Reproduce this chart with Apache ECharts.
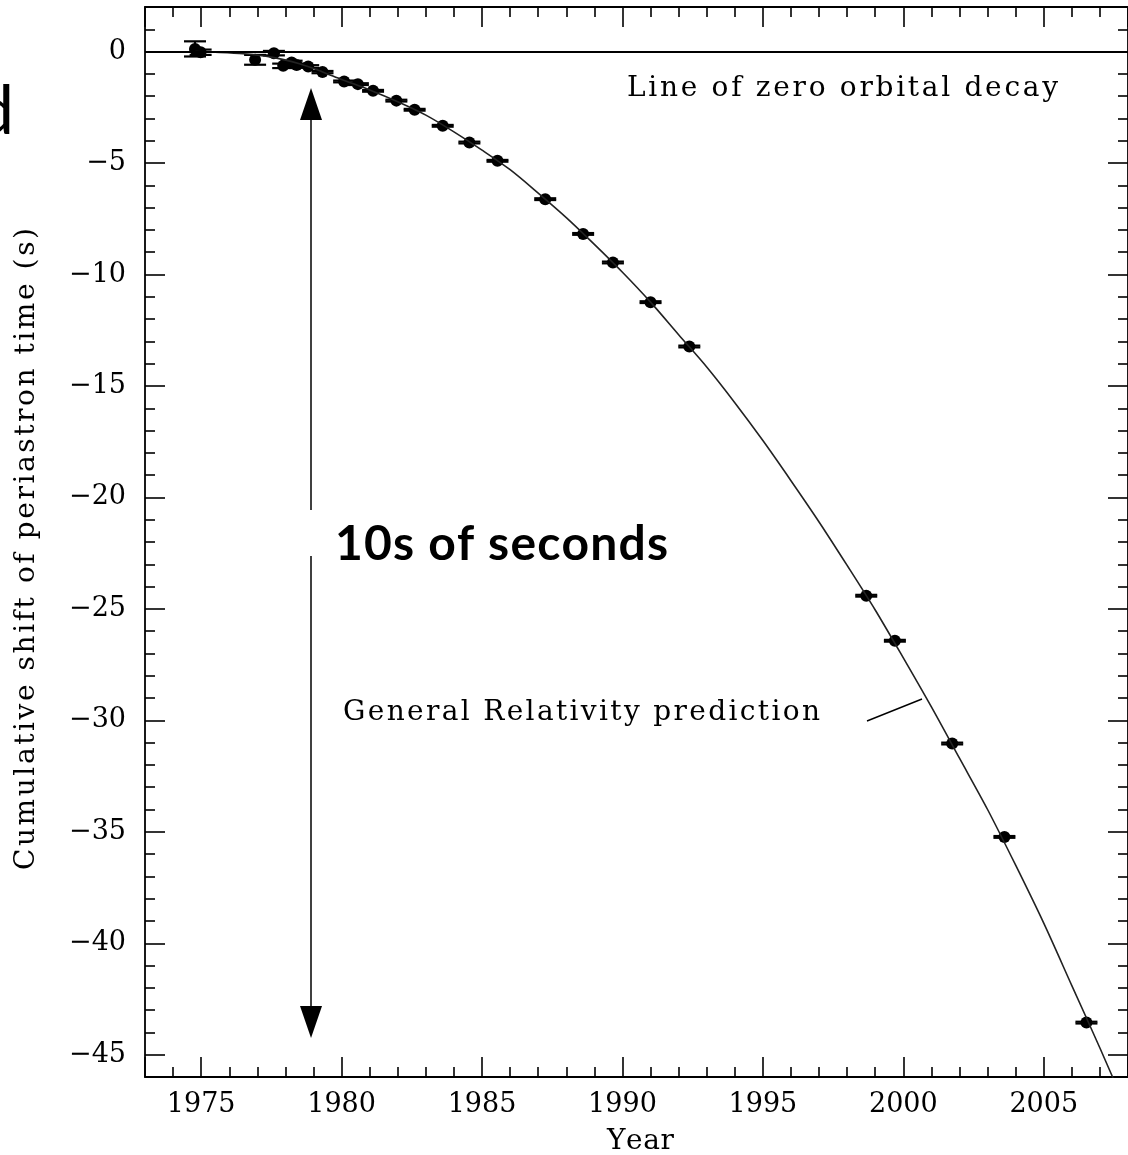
<!DOCTYPE html>
<html>
<head>
<meta charset="utf-8">
<script src="https://cdn.jsdelivr.net/npm/echarts/dist/echarts.min.js"></script>
<style>
  html, body { margin: 0; padding: 0; background: #fff; }
  #chart { width: 1128px; height: 1155px; }
</style>
</head>
<body>
<div id="chart"></div>
<script>
// measured periastron shift (s) per epoch, with 1-sigma errors
var obsYears = [1974.78, 1974.98, 1976.92, 1977.59, 1977.92, 1978.22, 1978.40, 1978.81, 1979.32,
                1980.09, 1980.58, 1981.12, 1981.95, 1982.60, 1983.60, 1984.55, 1985.55, 1987.25,
                1988.60, 1989.66, 1991.00, 1992.38, 1998.68, 1999.70, 2001.74, 2003.60, 2006.52];
var obsShift = [0.12, -0.03, -0.37, -0.07, -0.64, -0.49, -0.60, -0.67, -0.92,
                -1.34, -1.46, -1.76, -2.20, -2.61, -3.33, -4.08, -4.90, -6.62,
                -8.18, -9.46, -11.24, -13.23, -24.41, -26.43, -31.04, -35.23, -43.56];
var obsError = [0.34, 0.12, 0.22, 0.10, 0.10, 0.08, 0.06, 0.06, 0.05,
                0.04, 0.04, 0.04, 0.04, 0.04, 0.04, 0.04, 0.04, 0.04,
                0.04, 0.04, 0.04, 0.04, 0.04, 0.04, 0.04, 0.04, 0.04];

// general relativity prediction
var grYears = [1974.8, 1975.5, 1976.5, 1977.5, 1978.5, 1979.3, 1980, 1981, 1982, 1983, 1984, 1985,
               1986, 1987, 1988, 1989, 1990, 1991, 1992, 1993, 1994, 1995, 1996, 1997, 1998,
               1999, 2000, 2001, 2002, 2003, 2004, 2005, 2006, 2007, 2008];
var grShift = [0.00, -0.03, -0.10, -0.25, -0.55, -0.90, -1.25, -1.72, -2.25, -2.85, -3.60, -4.42,
               -5.30, -6.35, -7.45, -8.65, -9.90, -11.24, -12.70, -14.15, -15.75, -17.45, -19.25, -21.10, -23.05,
               -25.05, -27.20, -29.40, -31.70, -34.00, -36.50, -39.10, -41.90, -44.70, -47.60];

var serif = 'DejaVu Serif';
var ink = '#000';

// text with stretched letter spacing so it fills a given width (the original font is loosely set)
var measureCtx = document.createElement('canvas').getContext('2d');
function spacedText(str, size, family, weight, width) {
    var font = (weight || 'normal') + ' ' + size + 'px "' + family + '"';
    measureCtx.font = font;
    var widths = [], natural = 0;
    for (var i = 0; i < str.length; i++) {
        widths.push(measureCtx.measureText(str[i]).width);
        natural += widths[i];
    }
    var gap = str.length > 1 ? (width - natural) / (str.length - 1) : 0;
    var x = 0, children = [];
    for (var j = 0; j < str.length; j++) {
        if (str[j] !== ' ') {
            children.push({
                type: 'text', x: x, y: 0,
                style: {text: str[j], fontSize: size, fontFamily: family, fontWeight: weight || 'normal',
                        fill: ink, verticalAlign: 'middle', align: 'left'}
            });
        }
        x += widths[j] + gap;
    }
    return children;
}

function minusLabel(v) {
    return v < 0 ? '\u2212' + Math.abs(v) : String(v);
}

var myChart = echarts.init(document.getElementById('chart'));

var tickStyle = {color: ink, width: 1.6};
function xAxisDef(pos, showLabel) {
    return {
        type: 'value', position: pos, min: 1973, max: 2008, splitNumber: 7,
        axisLine: {show: true, onZero: false, lineStyle: {color: ink, width: 1.8}},
        axisTick: {show: true, inside: true, length: 20, lineStyle: tickStyle},
        minorTick: {show: true, splitNumber: 5, length: 10, lineStyle: tickStyle},
        splitLine: {show: false},
        axisLabel: {show: showLabel, showMinLabel: false, showMaxLabel: false, margin: 14,
                    color: ink, fontFamily: serif, fontSize: 27,
                    formatter: function (v) { return String(v); }}
    };
}
function yAxisDef(pos, showLabel) {
    return {
        type: 'value', position: pos, min: -46, max: 2, splitNumber: 10,
        axisLine: {show: true, onZero: false, lineStyle: {color: ink, width: 1.8}},
        axisTick: {show: true, inside: true, length: 20, lineStyle: tickStyle},
        minorTick: {show: true, splitNumber: 5, length: 10, lineStyle: tickStyle},
        splitLine: {show: false},
        axisLabel: {show: showLabel, showMinLabel: false, showMaxLabel: false, margin: 19,
                    color: ink, fontFamily: serif, fontSize: 27, formatter: minusLabel}
    };
}

var option = {
    backgroundColor: '#fff',
    animation: false,
    grid: {left: 145, right: -4, top: 7, bottom: 78},
    xAxis: [xAxisDef('bottom', true), xAxisDef('top', false)],
    yAxis: [yAxisDef('left', true), yAxisDef('right', false)],
    series: [{
        name: 'GR prediction',
        type: 'line',
        data: grYears.map(function (y, i) { return [y, grShift[i]]; }),
        showSymbol: false,
        smooth: 0.3,
        lineStyle: {color: '#222', width: 1.6},
        markLine: {
            silent: true, symbol: 'none', label: {show: false},
            lineStyle: {color: ink, width: 1.8, type: 'solid'},
            data: [{yAxis: 0}]
        }
    }, {
        name: 'errors',
        type: 'custom',
        data: obsYears.map(function (y, i) { return [y, obsShift[i] - obsError[i], obsShift[i] + obsError[i]]; }),
        encode: {x: 0, y: [1, 2]},
        renderItem: function (params, api) {
            var lo = api.coord([api.value(0), api.value(1)]);
            var hi = api.coord([api.value(0), api.value(2)]);
            var cap = 11;
            var st = {stroke: ink, lineWidth: 2.2};
            return {type: 'group', children: [
                {type: 'line', shape: {x1: lo[0], y1: lo[1], x2: hi[0], y2: hi[1]}, style: st},
                {type: 'line', shape: {x1: lo[0] - cap, y1: lo[1], x2: lo[0] + cap, y2: lo[1]}, style: st},
                {type: 'line', shape: {x1: hi[0] - cap, y1: hi[1], x2: hi[0] + cap, y2: hi[1]}, style: st}
            ]};
        }
    }, {
        name: 'observed',
        type: 'scatter',
        data: obsYears.map(function (y, i) { return [y, obsShift[i]]; }),
        symbol: 'circle',
        symbolSize: 12,
        itemStyle: {color: ink, opacity: 1}
    }],
    graphic: [
        // y axis title, reading upwards
        {type: 'group', x: 27, y: 870, rotation: Math.PI / 2,
         children: spacedText('Cumulative shift of periastron time (s)', 28, serif, 'normal', 642)},
        {type: 'group', x: 607, y: 1142, children: spacedText('Year', 28, serif, 'normal', 67)},
        {type: 'group', x: 627, y: 89, children: spacedText('Line of zero orbital decay', 28, serif, 'normal', 431)},
        {type: 'group', x: 343, y: 713, children: spacedText('General Relativity prediction', 28, serif, 'normal', 477)},
        {type: 'line', shape: {x1: 867, y1: 721, x2: 922, y2: 699}, style: {stroke: ink, lineWidth: 1.5}},
        // double arrow spanning tens of seconds
        {type: 'line', shape: {x1: 311, y1: 118, x2: 311, y2: 510}, style: {stroke: ink, lineWidth: 1.5}},
        {type: 'polygon', shape: {points: [[300, 120], [322, 120], [311, 88]]}, style: {fill: ink}},
        {type: 'line', shape: {x1: 311, y1: 556, x2: 311, y2: 1008}, style: {stroke: ink, lineWidth: 1.5}},
        {type: 'polygon', shape: {points: [[300, 1006], [322, 1006], [311, 1038]]}, style: {fill: ink}},
        {type: 'group', x: 335, y: 545, children: spacedText('10s of seconds', 48, 'Lato', 'bold', 333)},
        // clipped letter of the slide title
        {type: 'text', x: 14, y: 112, style: {text: 'd', fontSize: 68, fontFamily: 'Lato', fill: ink,
                                              align: 'right', verticalAlign: 'middle'}}
    ]
};

myChart.setOption(option);
</script>
</body>
</html>
